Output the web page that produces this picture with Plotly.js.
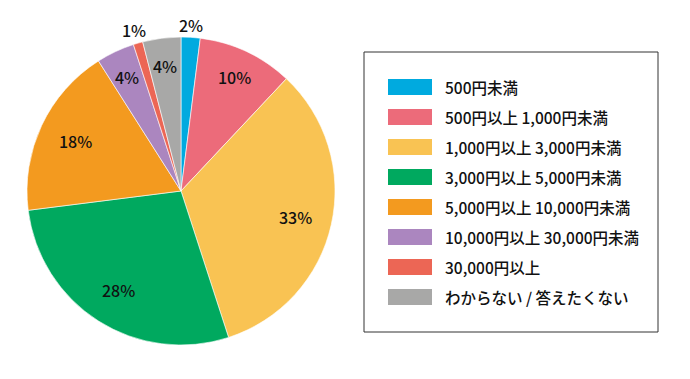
<!DOCTYPE html>
<html>
<head>
<meta charset="utf-8">
<script src="https://cdn.plot.ly/plotly-3.0.1.min.js"></script>
<style>html,body{margin:0;padding:0;background:#fff;}#chart{width:690px;height:379px;}</style>
</head>
<body>
<div id="chart"></div>
<script>
const categories = ["500円未満", "500円以上 1,000円未満", "1,000円以上 3,000円未満", "3,000円以上 5,000円未満", "5,000円以上 10,000円未満", "10,000円以上 30,000円未満", "30,000円以上", "わからない / 答えたくない"];
const values = [2, 10, 33, 28, 18, 4, 1, 4];
const colors = ["#00aadf", "#ec6b7a", "#f9c353", "#00a95f", "#f39a1f", "#ab86bf", "#ec6655", "#a8a8a7"];

const W = 690, H = 379;
const FONT = '"Noto Sans CJK JP", "Noto Sans", sans-serif';
const px = x => x / W;
const py = y => 1 - y / H;

// pie geometry (pixels)
const CX = 181, CY = 191, R = 154;

const trace = {
  type: 'pie',
  labels: categories,
  values: values,
  sort: false,
  direction: 'clockwise',
  rotation: 0,
  marker: {colors: colors, line: {color: '#ffffff', width: 0.6}},
  textinfo: 'none',
  hoverinfo: 'label+percent',
  showlegend: false,
  domain: {x: [px(CX - R), px(CX + R)], y: [py(CY + R), py(CY - R)]}
};

const shapes = [{
  type: 'rect', xref: 'paper', yref: 'paper',
  x0: px(364), x1: px(658), y0: py(332), y1: py(52),
  line: {color: '#333333', width: 1}, fillcolor: 'rgba(0,0,0,0)'
}];
const annotations = [];

// percentage labels at each slice's mid-angle
const total = values.reduce((a, b) => a + b, 0);
let cum = 0;
values.forEach((v, i) => {
  const mid = (cum + v / 2) / total * 2 * Math.PI;
  cum += v;
  const share = v / total;
  const f = share < 0.015 ? 1.09 : share < 0.03 ? 1.08 : share < 0.15 ? 0.82 : 0.76;
  const x = CX + f * R * Math.sin(mid);
  const y = CY - f * R * Math.cos(mid);
  annotations.push({
    xref: 'paper', yref: 'paper', x: px(x), y: py(y),
    xanchor: 'center', yanchor: 'middle', showarrow: false,
    text: v + '%', font: {family: FONT, size: 16, color: '#111', weight: 500}
  });
});

categories.forEach((c, i) => {
  const cy = 87 + i * 30;
  shapes.push({
    type: 'rect', xref: 'paper', yref: 'paper',
    x0: px(388), x1: px(432), y0: py(cy + 8), y1: py(cy - 8),
    line: {width: 0}, fillcolor: colors[i]
  });
  annotations.push({
    xref: 'paper', yref: 'paper', x: px(443), y: py(cy),
    xanchor: 'left', yanchor: 'middle', showarrow: false,
    text: c, font: {family: FONT, size: 15.5, color: '#111', weight: 500}
  });
});

const layout = {
  width: W, height: H,
  margin: {l: 0, r: 0, t: 0, b: 0},
  paper_bgcolor: '#ffffff',
  plot_bgcolor: '#ffffff',
  showlegend: false,
  shapes: shapes,
  annotations: annotations
};

Plotly.newPlot('chart', [trace], layout, {displayModeBar: false, staticPlot: true});
</script>
</body>
</html>
